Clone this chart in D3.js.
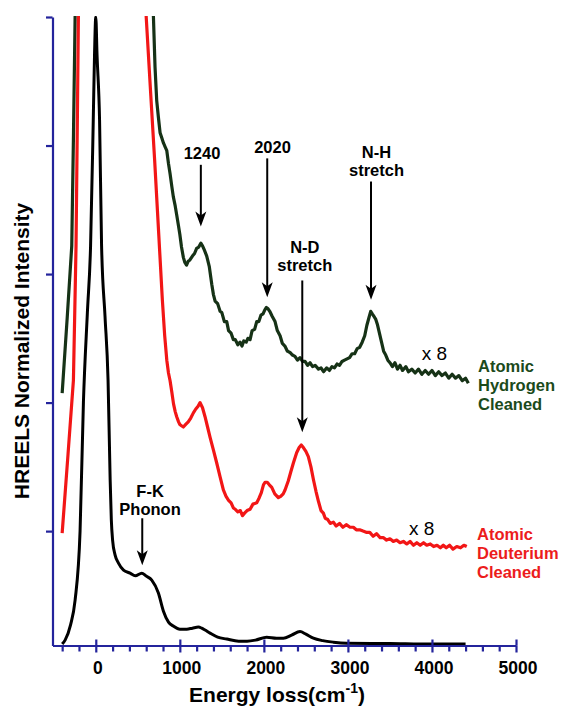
<!DOCTYPE html>
<html><head><meta charset="utf-8">
<script src="https://cdn.jsdelivr.net/npm/d3@7"></script>
<style>
html,body{margin:0;padding:0;background:#fff;}
svg{display:block;font-family:"Liberation Sans",Arial,Helvetica,sans-serif;}
</style></head><body>
<svg id="chart" width="562" height="706"></svg>
<script>
// HREELS spectra: [energy loss (cm^-1), normalized intensity]
const elasticSpectrum = [
  [-400,0.121],[-365,0.152],[-300,0.27],[-246,0.463],[-187,1.000],[-147,2.004],[-100,2.70],
  [-62,3.218],[-30,4.198],[-15,4.704],[0,5.0],[15,4.704],[45,4.198],[69,3.218],[110,2.67],
  [146,2.175],[171,1.40],[185,1.086],[200,0.930],[230,0.813],[270,0.751],[330,0.696],
  [408,0.673],[470,0.652],[547,0.673],[600,0.650],[666,0.619],[745,0.518],[805,0.377],
  [865,0.292],[923,0.261],[1000,0.237],[1083,0.237],[1150,0.245],[1221,0.253],[1260,0.245],
  [1300,0.230],[1360,0.206],[1450,0.175],[1558,0.160],[1700,0.144],[1800,0.144],[1900,0.152],
  [2034,0.175],[2150,0.167],[2232,0.167],[2330,0.191],[2430,0.218],[2500,0.198],[2589,0.167],
  [2700,0.148],[2827,0.136],[2986,0.128],[3500,0.125],[4000,0.121],[4400,0.121]
];

const deuteriumSpectrum = [
  [-400,0.984],[-330,1.60],[-266,2.175],[-250,2.71],[-235,3.218],[-220,4.15],[-207,5.0],[-190,5.6],
  [580,5.6],[600,5.00],[650,4.44],[700,3.89],[750,3.30],[792,2.80],[820,2.52],[845,2.33],[865,2.23],
  [884,2.17],[905,2.08],[925,1.99],[945,1.93],[963,1.89],[985,1.85],[1000,1.83],[1020,1.82],
  [1042,1.81],[1070,1.83],[1100,1.85],[1130,1.88],[1161,1.92],[1190,1.95],[1215,1.97],[1241,2.00],
  [1270,1.96],[1300,1.89],[1330,1.81],[1360,1.73],[1400,1.63],[1439,1.53],[1480,1.42],[1518,1.32],
  [1550,1.27],[1580,1.24],[1610,1.22],[1637,1.18],[1660,1.17],[1690,1.15],[1720,1.16],[1745,1.12],
  [1770,1.14],[1800,1.16],[1836,1.17],[1870,1.21],[1915,1.22],[1945,1.26],[1970,1.30],[1995,1.36],
  [2014,1.38],[2040,1.38],[2065,1.36],[2094,1.34],[2130,1.29],[2172,1.26],[2200,1.27],[2230,1.29],
  [2252,1.32],[2290,1.39],[2320,1.46],[2351,1.53],[2390,1.61],[2420,1.65],[2445,1.67],[2470,1.65],
  [2500,1.62],[2529,1.58],[2560,1.50],[2590,1.40],[2620,1.31],[2650,1.23],[2680,1.16],[2708,1.14],
  [2730,1.10],[2760,1.09],[2790,1.06],[2827,1.07],[2860,1.04],[2900,1.06],[2940,1.03],[2980,1.05],
  [3025,1.03],[3065,1.03],[3100,1.01],[3140,1.01],[3180,1.00],[3224,0.99],[3260,0.99],[3300,0.96],
  [3340,0.98],[3383,0.95],[3420,0.95],[3460,0.93],[3500,0.94],[3540,0.92],[3580,0.93],[3620,0.91],
  [3660,0.92],[3700,0.90],[3739,0.92],[3780,0.89],[3820,0.91],[3860,0.89],[3900,0.91],[3938,0.89],
  [3980,0.90],[4020,0.88],[4060,0.89],[4100,0.87],[4135,0.89],[4170,0.87],[4210,0.89],[4250,0.86],
  [4295,0.88],[4340,0.87],[4380,0.89],[4414,0.88]
];

const hydrogenSpectrum = [
  [-400,2.074],[-340,2.66],[-286,3.218],[-265,4.1],[-246,5.0],[-200,5.6],
  [640,5.6],[686,5.00],[705,4.61],[725,4.35],[745,4.22],[765,4.10],[785,4.06],[805,4.02],[825,3.99],
  [845,3.96],[865,3.86],[884,3.78],[905,3.68],[923,3.60],[945,3.53],[963,3.46],[983,3.38],[1000,3.31],
  [1020,3.21],[1042,3.13],[1060,3.09],[1080,3.07],[1100,3.10],[1120,3.11],[1150,3.14],[1175,3.16],
  [1200,3.20],[1225,3.21],[1250,3.24],[1270,3.22],[1290,3.19],[1320,3.14],[1350,3.06],[1380,2.92],
  [1400,2.84],[1420,2.79],[1450,2.77],[1479,2.71],[1500,2.70],[1530,2.63],[1558,2.63],[1580,2.56],
  [1610,2.54],[1637,2.49],[1660,2.49],[1690,2.45],[1717,2.47],[1740,2.44],[1760,2.48],[1790,2.47],
  [1810,2.50],[1836,2.49],[1860,2.56],[1890,2.57],[1915,2.63],[1940,2.63],[1965,2.68],[1990,2.69],
  [2010,2.72],[2030,2.74],[2050,2.73],[2070,2.71],[2100,2.67],[2133,2.63],[2160,2.56],[2193,2.52],
  [2220,2.46],[2250,2.44],[2280,2.40],[2311,2.39],[2340,2.37],[2370,2.36],[2400,2.33],[2430,2.35],
  [2460,2.32],[2490,2.32],[2520,2.29],[2549,2.31],[2580,2.28],[2610,2.29],[2650,2.26],[2680,2.27],
  [2710,2.24],[2748,2.27],[2780,2.25],[2810,2.28],[2840,2.27],[2870,2.30],[2900,2.29],[2930,2.32],
  [2960,2.33],[2990,2.34],[3020,2.35],[3050,2.38],[3080,2.38],[3110,2.42],[3140,2.43],[3170,2.47],
  [3200,2.52],[3225,2.60],[3250,2.66],[3271,2.71],[3290,2.69],[3310,2.67],[3330,2.65],[3350,2.61],
  [3375,2.54],[3400,2.47],[3425,2.40],[3450,2.37],[3475,2.33],[3500,2.31],[3530,2.28],[3560,2.31],
  [3590,2.26],[3620,2.29],[3650,2.25],[3690,2.28],[3720,2.24],[3760,2.26],[3800,2.23],[3840,2.26],
  [3880,2.22],[3920,2.25],[3960,2.22],[4000,2.25],[4040,2.21],[4080,2.24],[4120,2.21],[4160,2.23],
  [4200,2.19],[4240,2.22],[4280,2.19],[4320,2.21],[4360,2.17],[4400,2.19],[4433,2.15]
];

const xMajorTicks = [0, 1000, 2000, 3000, 4000, 5000];
const xMinorTicks = [-400,-200,200,400,600,800,1200,1400,1600,1800,2200,2400,2600,2800,
                     3200,3400,3600,3800,4200,4400,4600,4800];
const yTicks = [1, 2, 3, 4, 5];

// peak annotations: arrow at energy x from intensity `from` down to `to`
const peakNotes = [
  {lines:["1240"], x:1250, from:3.85, to:3.37, tx:1264, ty:3.895},
  {lines:["2020"], x:2040, from:3.90, to:2.82, tx:2103, ty:3.942},
  {lines:["N-D","stretch"], x:2457, from:2.95, to:1.77, tx:2487, ty:3.163},
  {lines:["N-H","stretch"], x:3275, from:3.72, to:2.80, tx:3340, ty:3.903},
  {lines:["F-K","Phonon"], x:553, from:1.10, to:0.735, tx:646, ty:1.265}
];

const seriesLabels = [
  {lines:["Atomic","Hydrogen","Cleaned"], x:4548, y:2.237, color:"#1b4a1b"},
  {lines:["Atomic","Deuterium","Cleaned"], x:4536, y:0.930, color:"#ec1c1c"}
];
const scaleNotes = [
  {text:"x 8", x:3878, y:2.331},
  {text:"x 8", x:3727, y:0.969}
];

const svg = d3.select("#chart");
const axisColor = "#24249c";
const x = d3.scaleLinear().domain([-515, 5000]).range([52.5, 516]);
const y = d3.scaleLinear().domain([0.11, 5]).range([645.5, 17]);

svg.append("defs").append("clipPath").attr("id","plot")
  .append("rect").attr("x", x.range()[0]).attr("y", 16)
  .attr("width", x.range()[1] - x.range()[0]).attr("height", y.range()[0] - 16);

const line = d3.line().x(d => x(d[0])).y(d => y(d[1]));
const smooth = d3.line().x(d => x(d[0])).y(d => y(d[1])).curve(d3.curveMonotoneX);

const plot = svg.append("g").attr("clip-path","url(#plot)");
plot.append("path").datum(hydrogenSpectrum).attr("d", line)
  .attr("fill","none").attr("stroke","#163216").attr("stroke-width",3.2).attr("stroke-linejoin","round");
plot.append("path").datum(deuteriumSpectrum).attr("d", line)
  .attr("fill","none").attr("stroke","#f21616").attr("stroke-width",3.2).attr("stroke-linejoin","round");
plot.append("path").datum(elasticSpectrum).attr("d", smooth)
  .attr("fill","none").attr("stroke","#000").attr("stroke-width",3).attr("stroke-linejoin","round");

// axes
const y0 = y.range()[0];
const xAxis = svg.append("g").attr("transform", `translate(0,${y0})`)
  .call(d3.axisBottom(x).tickValues(xMajorTicks).tickSizeInner(7).tickSizeOuter(0).tickPadding(0)
    .tickFormat(d3.format("d")));
svg.append("g").attr("transform", `translate(0,${y0})`)
  .call(d3.axisTop(x).tickValues(xMajorTicks).tickSize(6).tickFormat(""))
  .select(".domain").remove();
svg.append("g").attr("transform", `translate(0,${y0})`)
  .call(d3.axisBottom(x).tickValues(xMinorTicks).tickSize(6).tickFormat(""))
  .select(".domain").remove();
svg.append("g").attr("transform", `translate(${x.range()[0]},0)`)
  .call(d3.axisLeft(y).tickValues(yTicks).tickSize(6.5).tickSizeOuter(0).tickFormat(""));

svg.selectAll(".domain, .tick line").attr("stroke", axisColor).attr("stroke-width", 2.2);
xAxis.selectAll(".tick text")
  .attr("y", 28).attr("dy", 0).attr("dx", 1.5)
  .attr("fill", "#000").attr("font-size", 17.5).attr("font-weight", "bold")
  .attr("font-family", "'Liberation Sans', Arial, sans-serif");

// axis titles
svg.append("text").attr("transform", "translate(28.5,351) rotate(-90)")
  .attr("text-anchor","middle").attr("font-weight","bold").attr("font-size",21)
  .text("HREELS Normalized Intensity");
const xt = svg.append("text").attr("x", 277).attr("y", 702)
  .attr("text-anchor","middle").attr("font-weight","bold").attr("font-size",21);
xt.append("tspan").text("Energy loss(cm");
xt.append("tspan").attr("dy",-9).attr("font-size",14).text("-1");
xt.append("tspan").attr("dy",9).text(")");

// peak arrows and labels
peakNotes.forEach(n => {
  const ax = x(n.x), top = y(n.from), tip = y(n.to);
  svg.append("line").attr("x1", ax).attr("x2", ax).attr("y1", top).attr("y2", tip - 8)
    .attr("stroke","#000").attr("stroke-width",2);
  svg.append("path").attr("d", `M${ax},${tip} L${ax-5.5},${tip-15} L${ax},${tip-11} L${ax+5.5},${tip-15} Z`)
    .attr("fill","#000");
  const t = svg.append("text").attr("x", x(n.tx)).attr("y", y(n.ty))
    .attr("text-anchor","middle").attr("font-weight","bold").attr("font-size",16.5);
  n.lines.forEach((s, i) => t.append("tspan").attr("x", x(n.tx)).attr("dy", i ? 18 : 0).text(s));
});

seriesLabels.forEach(s => {
  const t = svg.append("text").attr("x", x(s.x)).attr("y", y(s.y))
    .attr("fill", s.color).attr("font-weight","bold").attr("font-size",16.5);
  s.lines.forEach((l, i) => t.append("tspan").attr("x", x(s.x)).attr("dy", i ? 19 : 0).text(l));
});

scaleNotes.forEach(s => {
  svg.append("text").attr("x", x(s.x)).attr("y", y(s.y))
    .attr("font-size",19).attr("fill","#000").text(s.text);
});
</script>
</body></html>
